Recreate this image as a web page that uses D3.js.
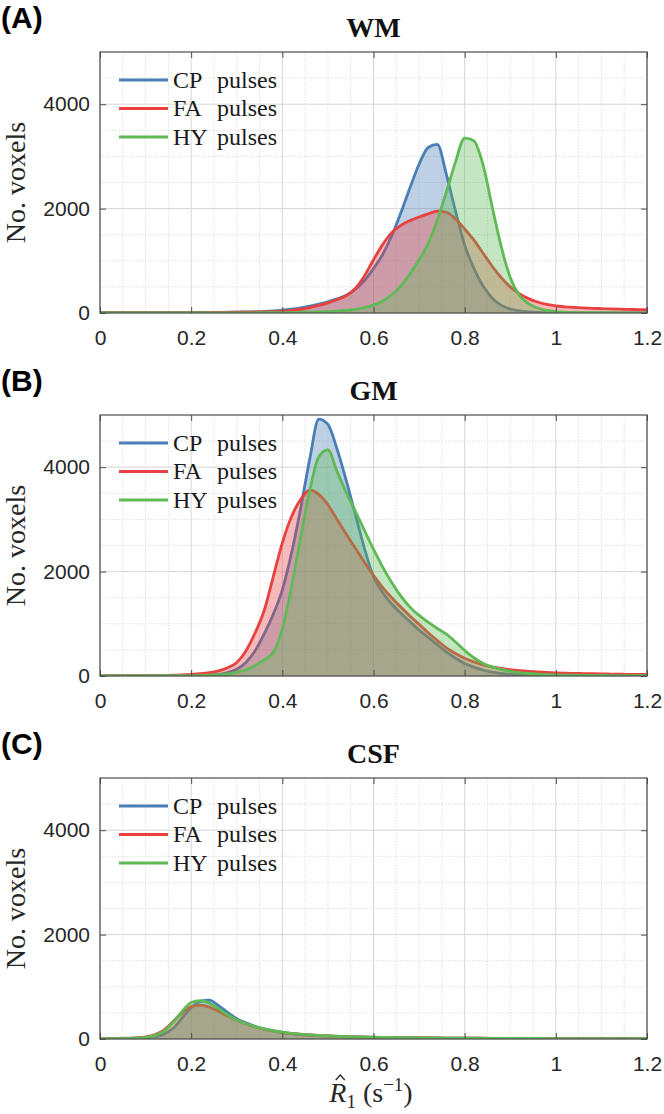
<!DOCTYPE html>
<html>
<head>
<meta charset="utf-8">
<script src="https://cdn.jsdelivr.net/npm/d3@7"></script>
<style>
  html, body { margin: 0; padding: 0; background: #ffffff; }
  svg { display: block; }
</style>
</head>
<body>
<svg id="chart" width="664" height="1114"></svg>
<script>
// ---------------- DATA ----------------
const r1Values = [0.00,0.02,0.04,0.06,0.08,0.10,0.12,0.14,0.16,0.18,
  0.20,0.22,0.24,0.26,0.28,0.30,0.32,0.34,0.36,0.38,
  0.40,0.42,0.44,0.46,0.48,0.50,0.52,0.54,0.56,0.58,
  0.60,0.62,0.64,0.66,0.68,0.70,0.72,0.74,0.76,0.78,
  0.80,0.82,0.84,0.86,0.88,0.90,0.92,0.94,0.96,0.98,
  1.00,1.02,1.04,1.06,1.08,1.10,1.12,1.14,1.16,1.18,1.20];

const seriesNames = ["CP", "FA", "HY"];
const panelLabels = ["(A)", "(B)", "(C)"];
const panelTitles = ["WM", "GM", "CSF"];

// WM
const wmCP = [5,5,5,5,5,5,6,6,7,8, 9,10,11,12,14,16,19,23,30,40,
  55,75,100,130,170,215,270,340,450,620, 850,1120,1480,1920,2400,2850,3170,3230,2650,1950,
  1300,860,520,290,150,75,40,20,10,6, 4,3,3,2,2,2,2,2,2,2,2];
const wmFA = [5,5,5,5,5,5,5,5,6,6, 7,8,9,10,12,14,16,19,23,28,
  36,50,72,105,145,195,255,330,470,710, 1020,1310,1540,1680,1770,1840,1900,1950,1930,1800,
  1610,1400,1150,900,680,500,370,275,210,165, 135,118,106,97,90,84,78,73,69,65,62];
const wmHY = [2,2,2,2,2,2,2,2,2,2, 3,3,3,3,3,4,4,4,5,5,
  6,8,10,14,19,25,34,48,70,105, 150,230,350,520,750,1020,1330,1780,2320,2900,
  3350,3300,2850,2050,1280,680,340,180,95,50, 28,16,10,7,6,5,5,4,4,4,4];

// GM
const gmCP = [3,3,3,3,4,4,5,5,6,7, 8,10,18,32,65,130,260,480,800,1180,
  1650,2350,3200,4150,4920,4820,4350,3750,3100,2450, 1900,1600,1380,1200,1040,880,740,600,460,340,
  240,170,115,75,50,32,20,14,10,8, 7,6,6,5,5,5,4,4,4,4,4];
const gmFA = [4,4,5,5,6,7,9,12,16,22, 32,45,65,100,160,260,480,820,1250,1900,
  2550,3050,3380,3560,3480,3280,3000,2720,2450,2180, 1930,1700,1500,1320,1150,990,830,680,540,430,
  340,270,215,175,145,120,102,88,77,68, 60,54,50,46,43,40,37,35,33,31,30];
const gmHY = [3,3,3,3,3,4,4,5,5,6, 7,10,15,25,40,70,120,200,310,450,
  900,1700,2650,3550,4200,4330,3920,3520,3160,2790, 2430,2090,1790,1530,1320,1160,1030,910,800,650,
  490,350,245,175,125,90,65,48,36,28, 22,18,15,13,11,10,9,8,8,7,7];

// CSF
const csfCP = [5,6,8,10,14,22,40,90,200,400, 600,720,745,640,510,390,310,245,195,155,
  125,102,86,74,64,56,49,44,39,35, 32,29,27,25,23,21,20,18,17,16,
  15,14,13,12,12,11,10,10,9,9, 8,8,8,7,7,7,6,6,6,6,5];
const csfFA = [6,8,10,14,22,40,80,170,330,500, 620,650,610,530,440,360,290,235,190,155,
  128,106,90,77,67,59,52,46,41,37, 34,31,28,26,24,22,21,19,18,17,
  16,15,14,13,12,12,11,10,10,9, 9,8,8,8,7,7,7,6,6,6,6];
const csfHY = [5,6,8,11,16,30,65,150,320,530, 700,735,690,580,460,365,295,238,192,158,
  130,108,92,79,69,60,53,47,42,38, 34,31,29,27,25,23,21,20,18,17,
  16,15,14,13,12,12,11,10,10,9, 9,8,8,8,7,7,7,6,6,6,6];

const xTicks = [0, 0.2, 0.4, 0.6, 0.8, 1, 1.2];
const yTicks = [0, 2000, 4000];
const xMinor = [0.05,0.1,0.15,0.25,0.3,0.35,0.45,0.5,0.55,0.65,0.7,0.75,0.85,0.9,0.95,1.05,1.1,1.15];
const yMinor = [500,1000,1500,2500,3000,3500,4500];

const panelData = [
  [wmCP, wmFA, wmHY],
  [gmCP, gmFA, gmHY],
  [csfCP, csfFA, csfHY]
];

// ---------------- STYLE / LAYOUT ----------------
const colors = ["#4a7eb4", "#e8413f", "#5fba55"];
const fillOpacity = 0.36;
const left = 100, right = 647, plotH = 261;
const tops = [52, 415, 778];
const axisColor = "#4d4d4d";
const textColor = "#262626";
const serif = "'Liberation Serif', 'Times New Roman', serif";
const sans = "'Liberation Sans', Arial, sans-serif";

const svg = d3.select("#chart");

const x = d3.scaleLinear().domain([0, 1.2]).range([0, right - left]);
const y = d3.scaleLinear().domain([0, 5000]).range([plotH, 0]);

panelData.forEach((series, p) => {
  const top = tops[p];
  const g = svg.append("g").attr("transform", `translate(${left},${top})`);

  const clipId = "clip" + p;
  g.append("clipPath").attr("id", clipId)
    .append("rect").attr("x", 0).attr("y", 0)
    .attr("width", right - left).attr("height", plotH);

  // minor grid
  g.append("g").selectAll("line").data(xMinor).join("line")
    .attr("x1", d => x(d)).attr("x2", d => x(d))
    .attr("y1", 0).attr("y2", plotH)
    .attr("stroke", "#e0e0e0").attr("stroke-width", 1)
    .attr("stroke-dasharray", "1.5,1.5");
  g.append("g").selectAll("line").data(yMinor).join("line")
    .attr("x1", 0).attr("x2", right - left)
    .attr("y1", d => y(d)).attr("y2", d => y(d))
    .attr("stroke", "#e0e0e0").attr("stroke-width", 1)
    .attr("stroke-dasharray", "1.5,1.5");
  // major grid
  g.append("g").selectAll("line").data(xTicks).join("line")
    .attr("x1", d => x(d)).attr("x2", d => x(d))
    .attr("y1", 0).attr("y2", plotH)
    .attr("stroke", "#d6d6d6").attr("stroke-width", 1);
  g.append("g").selectAll("line").data(yTicks).join("line")
    .attr("x1", 0).attr("x2", right - left)
    .attr("y1", d => y(d)).attr("y2", d => y(d))
    .attr("stroke", "#d6d6d6").attr("stroke-width", 1);

  // series
  const area = d3.area()
    .x((d, i) => x(r1Values[i]))
    .y0(y(0))
    .y1(d => y(d))
    .curve(d3.curveMonotoneX);
  const line = d3.line()
    .x((d, i) => x(r1Values[i]))
    .y(d => y(d))
    .curve(d3.curveMonotoneX);

  const sg = g.append("g").attr("clip-path", `url(#${clipId})`);
  series.forEach((vals, s) => {
    sg.append("path").datum(vals)
      .attr("d", area)
      .attr("fill", colors[s])
      .attr("fill-opacity", fillOpacity)
      .attr("stroke", "none");
    sg.append("path").datum(vals)
      .attr("d", line)
      .attr("fill", "none")
      .attr("stroke", colors[s])
      .attr("stroke-width", 2.8)
      .attr("stroke-linejoin", "round");
  });

  // axes
  const fmt = d => String(d);
  const xb = g.append("g").attr("transform", `translate(0,${plotH})`)
    .call(d3.axisBottom(x).tickValues(xTicks).tickFormat(fmt).tickSize(-6).tickPadding(17));
  const xt = g.append("g")
    .call(d3.axisTop(x).tickValues(xTicks).tickFormat("").tickSize(-6));
  const yl = g.append("g")
    .call(d3.axisLeft(y).tickValues(yTicks).tickFormat(fmt).tickSize(-6).tickPadding(10));
  const yr = g.append("g").attr("transform", `translate(${right - left},0)`)
    .call(d3.axisRight(y).tickValues(yTicks).tickFormat("").tickSize(-6));
  [xb, xt, yl, yr].forEach(a => {
    a.select(".domain").remove();
    a.selectAll(".tick line").attr("stroke", axisColor).attr("stroke-width", 1);
    a.selectAll(".tick text")
      .attr("fill", textColor)
      .style("font-family", sans)
      .style("font-size", "21px");
  });

  // box
  g.append("rect").attr("x", 0).attr("y", 0)
    .attr("width", right - left).attr("height", plotH)
    .attr("fill", "none").attr("stroke", axisColor).attr("stroke-width", 1.2);

  // legend
  const lg = g.append("g");
  seriesNames.forEach((name, s) => {
    const ly = 28 + s * 28.5;
    lg.append("line")
      .attr("x1", 19).attr("x2", 68).attr("y1", ly).attr("y2", ly)
      .attr("stroke", colors[s]).attr("stroke-width", 3.2);
    const t = lg.append("text")
      .attr("y", ly).attr("dy", "0.33em")
      .attr("fill", "#1a1a1a")
      .style("font-family", serif)
      .style("font-size", "24px");
    t.append("tspan").attr("x", 73).text(name);
    t.append("tspan").attr("x", 117).text("pulses");
  });

  // title
  svg.append("text")
    .attr("x", (left + right) / 2).attr("y", top - 15)
    .attr("text-anchor", "middle")
    .attr("fill", "#111")
    .style("font-family", serif)
    .style("font-weight", "bold")
    .style("font-size", "28px")
    .text(panelTitles[p]);

  // panel label
  svg.append("text")
    .attr("x", 1).attr("y", top - 24)
    .attr("fill", "#000")
    .style("font-family", sans)
    .style("font-weight", "bold")
    .style("font-size", "30px")
    .text(panelLabels[p]);

  // y label
  svg.append("text")
    .attr("transform", `translate(25,${top + plotH / 2}) rotate(-90)`)
    .attr("text-anchor", "middle")
    .attr("fill", textColor)
    .style("font-family", serif)
    .style("font-size", "28px")
    .text("No. voxels");
});

// x label: R-hat_1 (s^-1)
const xl = svg.append("text")
  .attr("x", 371).attr("y", 1102)
  .attr("text-anchor", "middle")
  .attr("fill", textColor)
  .style("font-family", serif)
  .style("font-size", "28px");
xl.append("tspan").style("font-style", "italic").text("R");
xl.append("tspan").attr("dy", 6).style("font-size", "19px").text("1");
xl.append("tspan").attr("dy", -6).text(" (s");
xl.append("tspan").attr("dy", -11).style("font-size", "19px").text("\u22121");
xl.append("tspan").attr("dy", 11).text(")");

// hat over R drawn as a small stroke
const rNode = xl.select("tspan").node();
if (rNode.getExtentOfChar) {
  const e = rNode.getExtentOfChar(0);
  const cx = e.x + e.width * 0.64;
  const hy = 1102 - 22;
  svg.append("path")
    .attr("d", `M${cx - 4.5},${hy} L${cx},${hy - 5} L${cx + 4.5},${hy}`)
    .attr("fill", "none")
    .attr("stroke", textColor)
    .attr("stroke-width", 1.3);
}
</script>
</body>
</html>
